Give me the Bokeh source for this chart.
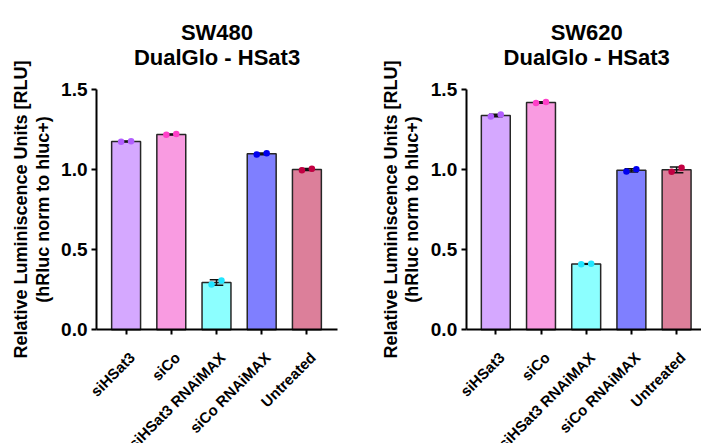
import numpy as np
from math import pi
from bokeh.plotting import figure
from bokeh.layouts import row
from bokeh.models import Range1d, FixedTicker, ColumnDataSource, NumeralTickFormatter
from bokeh.core.properties import value
from bokeh.embed import file_html
from bokeh.resources import INLINE

# ---------------- data ----------------
categories = ["siHSat3", "siCo", "siHSat3 RNAiMAX", "siCo RNAiMAX", "Untreated"]
bar_colors = ["#D5A8FF", "#F99BE1", "#8CFFFF", "#7F7FFF", "#DC7F9A"]
dot_colors = ["#B25EFF", "#FF3FC8", "#22E6FF", "#0000EE", "#C20042"]

sw480_rep1 = [1.172, 1.216, 0.283, 1.093, 0.995]
sw480_rep2 = [1.176, 1.220, 0.307, 1.101, 1.004]

sw620_rep1 = [1.330, 1.414, 0.409, 0.987, 0.985]
sw620_rep2 = [1.342, 1.420, 0.412, 1.001, 1.010]

y_ticks = [0.0, 0.5, 1.0, 1.5]
titles = [["SW480", "DualGlo - HSat3"], ["SW620", "DualGlo - HSat3"]]
y_label_lines = ["Relative Luminiscence Units [RLU]", "(hRluc norm to hluc+)"]

FONT = "Liberation Sans"

# ---------------- layout (pixels) ----------------
H = 443
PX_X = 45.2       # pixels per category
PX_Y = 160.4      # pixels per y unit
ZERO_Y = 329.3    # figure pixel row of y = 0
AXIS_LEN = 241    # length of x axis line
FIRST_GAP = 29.6  # px between y axis and first bar center


def make_panel(title_lines, rep1, rep2, width, axis_px):
    r1 = np.array(rep1)
    r2 = np.array(rep2)
    means = (r1 + r2) / 2
    sd = np.abs(r1 - r2) / np.sqrt(2)
    idx = np.arange(len(categories))

    x_axis = -FIRST_GAP / PX_X
    x_start = x_axis - axis_px / PX_X
    x_end = x_start + width / PX_X
    y_start = -(H - ZERO_Y) / PX_Y
    y_end = ZERO_Y / PX_Y

    p = figure(width=width, height=H, output_backend="svg", toolbar_location=None,
               x_range=Range1d(x_start, x_end), y_range=Range1d(y_start, y_end),
               min_border=0)
    p.outline_line_color = None
    p.grid.visible = False
    p.background_fill_color = "white"
    p.border_fill_color = "white"

    src = ColumnDataSource(dict(x=idx, top=means, fill=bar_colors, lo=means - sd, hi=means + sd,
                                cl=idx - 0.15, cr=idx + 0.15))
    p.vbar(x="x", top="top", bottom=0, width=0.64, source=src, fill_color="fill",
           line_color="#262626", line_width=1.5)
    p.segment(x0="x", y0="lo", x1="x", y1="hi", source=src, line_color="#111111", line_width=1.5)
    p.segment(x0="cl", y0="lo", x1="cr", y1="lo", source=src, line_color="#111111", line_width=1.5)
    p.segment(x0="cl", y0="hi", x1="cr", y1="hi", source=src, line_color="#111111", line_width=1.5)

    dsrc = ColumnDataSource(dict(x=np.concatenate([idx - 0.11, idx + 0.11]),
                                 y=np.concatenate([r1, r2]),
                                 c=dot_colors + dot_colors))
    p.scatter(x="x", y="y", source=dsrc, size=6.5, fill_color="c", line_color=None)

    # axes
    for ax in (p.xaxis, p.yaxis):
        ax.axis_line_width = 2
        ax.axis_line_color = "black"
        ax.major_tick_line_width = 2
        ax.major_tick_line_color = "black"
        ax.major_tick_out = 5
        ax.major_tick_in = 0
        ax.minor_tick_line_color = None

    p.yaxis.fixed_location = x_axis
    p.yaxis.bounds = (0, 1.5)
    p.yaxis.ticker = FixedTicker(ticks=y_ticks)
    p.yaxis.formatter = NumeralTickFormatter(format="0.0")
    p.yaxis.major_label_text_font = FONT
    p.yaxis.major_label_text_font_style = "bold"
    p.yaxis.major_label_text_font_size = "19px"
    p.yaxis.major_label_text_color = "black"
    p.yaxis.major_label_standoff = 4

    p.xaxis.fixed_location = 0
    p.xaxis.bounds = (x_axis, x_axis + AXIS_LEN / PX_X)
    p.xaxis.ticker = FixedTicker(ticks=list(range(len(categories))))
    p.xaxis.major_label_overrides = {i: "" for i in range(len(categories))}

    # rotated category labels
    lsrc = ColumnDataSource(dict(x=idx, y=np.zeros(len(idx)), t=categories))
    p.text(x="x", y="y", text="t", source=lsrc, angle=pi / 4,
           x_offset=6, y_offset=25, text_align="right", text_baseline="middle",
           text_font=value(FONT), text_font_style="bold", text_font_size="15px",
           text_color="black")

    # y axis title (two lines)
    ysrc = ColumnDataSource(dict(x=[x_axis, x_axis], y=[0.75, 0.75], t=y_label_lines,
                                 off=[-75.5, -54.0]))
    p.text(x="x", y="y", text="t", source=ysrc, angle=pi / 2, x_offset="off",
           text_align="center", text_baseline="middle", text_font=value(FONT),
           text_font_style="bold", text_font_size="18px", text_color="black")

    # title lines
    x_mid = x_axis + AXIS_LEN / PX_X / 2
    tsrc = ColumnDataSource(dict(x=[x_mid, x_mid], y=[1.855, 1.699], t=title_lines))
    p.text(x="x", y="y", text="t", source=tsrc, text_align="center",
           text_baseline="alphabetic", text_font=value(FONT), text_font_style="bold",
           text_font_size="22px", text_color="black")
    return p


p1 = make_panel(titles[0], sw480_rep1, sw480_rep2, 350, 96)
p2 = make_panel(titles[1], sw620_rep1, sw620_rep2, 351, 115.7)

layout = row(p1, p2)
open("out.html", "w").write(file_html(layout, INLINE))
